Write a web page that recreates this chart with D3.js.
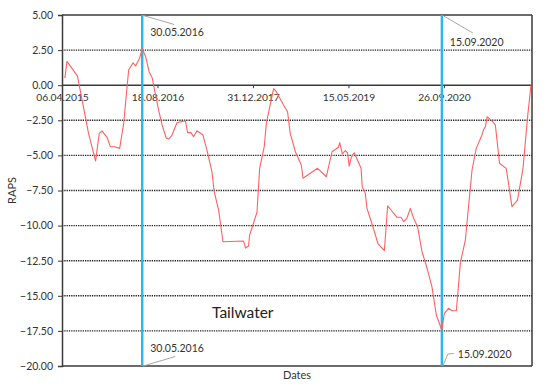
<!DOCTYPE html>
<html>
<head>
<meta charset="utf-8">
<script src="https://cdn.jsdelivr.net/npm/d3@7"></script>
<style>
  html, body { margin: 0; padding: 0; background: #fff; }
  svg { display: block; font-family: Lato, "Open Sans", sans-serif; }
</style>
</head>
<body>
<svg id="chart" width="550" height="388"></svg>
<script>
// ---- data ----
const dates = [
  "2015-04-21","2015-05-02","2015-06-26","2015-08-06","2015-08-23","2015-09-29","2015-10-18","2015-11-01",
  "2015-11-28","2015-12-15","2016-01-06","2016-02-02","2016-02-23","2016-03-20","2016-04-12","2016-04-25",
  "2016-05-16","2016-05-30","2016-06-17","2016-07-05","2016-07-22","2016-08-01","2016-08-24","2016-09-11",
  "2016-10-03","2016-10-17","2016-11-02","2016-11-28","2016-12-19","2017-01-11","2017-01-23","2017-02-09",
  "2017-02-23","2017-03-13","2017-04-13","2017-05-04","2017-05-30","2017-06-11","2017-07-04","2017-07-27",
  "2017-11-12","2017-11-22","2017-12-08","2017-12-13","2018-01-21","2018-02-04","2018-02-28","2018-03-11",
  "2018-04-18","2018-05-02","2018-06-09","2018-06-30","2018-07-14","2018-08-10","2018-09-10","2018-09-19",
  "2018-12-04","2019-01-19","2019-02-18","2019-03-24","2019-03-30","2019-04-13","2019-04-28","2019-05-10",
  "2019-05-19","2019-05-30","2019-06-14","2019-07-20","2019-07-26","2019-08-11","2019-08-20","2019-09-20",
  "2019-10-17","2019-11-19","2019-12-06","2019-12-24","2020-01-24","2020-02-14","2020-02-28","2020-03-16",
  "2020-04-03","2020-04-20","2020-05-11","2020-06-03","2020-06-25","2020-07-25","2020-08-17","2020-09-15",
  "2020-09-28","2020-10-20","2020-11-07","2020-11-30","2020-12-21","2021-01-16","2021-02-20","2021-03-14",
  "2021-04-13","2021-04-22","2021-05-01","2021-05-10","2021-06-04","2021-06-22","2021-07-14","2021-08-18",
  "2021-08-30","2021-09-17","2021-10-16","2021-11-14","2021-12-08","2021-12-26"
];
const raps = [
  0.5, 1.7, 0.65, -2.24, -3.43, -5.4, -3.43, -3.26,
  -3.71, -4.38, -4.38, -4.5, -2.71, 1.08, 1.6, 1.37,
  1.92, 2.6, 2.03, 0.96, 0.49, -0.22, -1.77, -2.83,
  -3.78, -3.83, -3.55, -2.67, -2.6, -2.53, -3.38, -3.38,
  -3.67, -3.24, -3.55, -4.62, -6.16, -7.58, -8.89, -11.15,
  -11.1, -11.6, -11.45, -10.7, -9.05, -5.92, -4.38, -2.71,
  -0.25, -0.46, -1.41, -1.89, -3.43, -4.74, -5.68, -6.63,
  -5.92, -6.52, -4.74, -4.42, -4.09, -4.9, -4.66, -4.81,
  -5.76, -5.14, -4.81, -5.92, -7.23, -7.7, -8.77, -10.08,
  -11.31, -11.79, -8.6, -8.89, -9.41, -9.41, -9.72, -9.48,
  -8.77, -9.48, -10.08, -11.86, -12.81, -14.35, -16.37, -17.45,
  -16.25, -15.89, -16.06, -16.06, -12.64, -11.03, -6.04, -4.5,
  -3.55, -3.14, -2.96, -2.25, -2.53, -2.83, -5.56, -5.92,
  -6.99, -8.65, -8.18, -5.92, -2.24, 0.05
];
const xTickLabels = ["06.04.2015", "18.08.2016", "31.12.2017", "15.05.2019", "26.09.2020"];
const xDomain = ["06.04.2015", "31.12.2021"];
const yTicks = [5, 2.5, 0, -2.5, -5, -7.5, -10, -12.5, -15, -17.5, -20];
const markerDates = ["30.05.2016", "15.09.2020"];
const seriesLabel = "Tailwater";
const yTitle = "RAPS";
const xTitle = "Dates";

// ---- layout ----
const svg = d3.select("#chart");
const pL = 62, pR = 532, pT = 15, pB = 366;
const parseISO = d3.utcParse("%Y-%m-%d");
const parseDMY = d3.utcParse("%d.%m.%Y");
const fmtDMY = d3.utcFormat("%d.%m.%Y");

const x = d3.scaleUtc().domain(xDomain.map(parseDMY)).range([pL, pR]);
const y = d3.scaleLinear().domain([-20, 5]).range([pB, pT]);

const data = dates.map((d, i) => ({ date: parseISO(d), v: raps[i] }));

// gridlines
const solid = new Set([5, 0, -20]);
svg.append("g").selectAll("line").data(yTicks).join("line")
  .attr("x1", pL).attr("x2", pR)
  .attr("y1", d => y(d)).attr("y2", d => y(d))
  .attr("stroke", d => solid.has(d) ? "#3a3a3a" : "#222")
  .attr("stroke-width", d => solid.has(d) ? 1.5 : 1.4)
  .attr("stroke-dasharray", d => solid.has(d) ? null : "1.3,1");

// right border
svg.append("line").attr("x1", pR).attr("x2", pR).attr("y1", y(5)).attr("y2", y(-20))
  .attr("stroke", "#3a3a3a").attr("stroke-width", 1.5);

// y axis
const yAxis = svg.append("g").attr("transform", `translate(${pL},0)`)
  .call(d3.axisLeft(y).tickValues(yTicks).tickFormat(d3.format(".2f")).tickSize(4).tickPadding(5));
yAxis.select(".domain").attr("stroke", "#3a3a3a").attr("stroke-width", 1.5);
yAxis.selectAll(".tick line").attr("stroke", "#3a3a3a");
yAxis.selectAll("text").attr("font-size", "10.5px").attr("fill", "#333")
  .attr("font-family", "Lato, 'Open Sans', sans-serif");

// x axis at zero
const xAxis = svg.append("g").attr("transform", `translate(0,${y(0)})`)
  .call(d3.axisBottom(x).tickValues(xTickLabels.map(parseDMY)).tickFormat(fmtDMY).tickSize(3).tickPadding(5));
xAxis.select(".domain").remove();
xAxis.selectAll(".tick line").attr("stroke", "#3a3a3a");
xAxis.selectAll("text").attr("font-size", "10.3px").attr("fill", "#333")
  .attr("font-family", "Lato, 'Open Sans', sans-serif");

// vertical marker lines
svg.append("g").selectAll("line").data(markerDates).join("line")
  .attr("x1", d => x(parseDMY(d))).attr("x2", d => x(parseDMY(d)))
  .attr("y1", y(5)).attr("y2", y(-20))
  .attr("stroke", "#29b8ee").attr("stroke-width", 2.4);

// series line
const line = d3.line().x(d => x(d.date)).y(d => y(d.v));
svg.append("path").datum(data)
  .attr("d", line)
  .attr("fill", "none")
  .attr("stroke", "#ff6060")
  .attr("stroke-width", 1.1)
  .attr("stroke-linejoin", "round");

// marker labels with leader lines
const m0 = x(parseDMY(markerDates[0])), m1 = x(parseDMY(markerDates[1]));
const leader = "#a6a6a6";
const labels = svg.append("g").attr("font-size", "10.5px").attr("fill", "#333");
// top 30.05.2016
svg.append("line").attr("x1", m0 + 1).attr("y1", y(5) + 0.5).attr("x2", m0 + 32).attr("y2", y(5) + 9.5)
  .attr("stroke", leader).attr("stroke-width", 1);
labels.append("text").attr("x", m0 + 8).attr("y", 36).text(markerDates[0]);
// bottom 30.05.2016
svg.append("line").attr("x1", m0 + 1).attr("y1", y(-20)).attr("x2", m0 + 33).attr("y2", y(-20) - 9.5)
  .attr("stroke", leader).attr("stroke-width", 1);
labels.append("text").attr("x", m0 + 8).attr("y", 352).text(markerDates[0]);
// top 15.09.2020
svg.append("line").attr("x1", m1 + 2).attr("y1", y(5) + 1).attr("x2", m1 + 31).attr("y2", y(5) + 18)
  .attr("stroke", leader).attr("stroke-width", 1);
labels.append("text").attr("x", m1 + 8).attr("y", 46).text(markerDates[1]);
// bottom 15.09.2020
svg.append("polyline")
  .attr("points", `${m1 + 1},${y(-20)} ${m1 + 6},${y(-20) - 12} ${m1 + 12},${y(-20) - 12.5}`)
  .attr("fill", "none").attr("stroke", leader).attr("stroke-width", 1);
labels.append("text").attr("x", m1 + 16).attr("y", 358).text(markerDates[1]);

// series label
svg.append("text").attr("x", 212).attr("y", 318).attr("font-size", "15.5px").attr("fill", "#222")
  .text(seriesLabel);

// axis titles
svg.append("text").attr("x", (pL + pR) / 2).attr("y", 379).attr("text-anchor", "middle")
  .attr("font-size", "11px").attr("fill", "#333").text(xTitle);
svg.append("text").attr("transform", `translate(16,${(pT + pB) / 2}) rotate(-90)`)
  .attr("text-anchor", "middle").attr("font-size", "11px").attr("fill", "#333").text(yTitle);
</script>
</body>
</html>
